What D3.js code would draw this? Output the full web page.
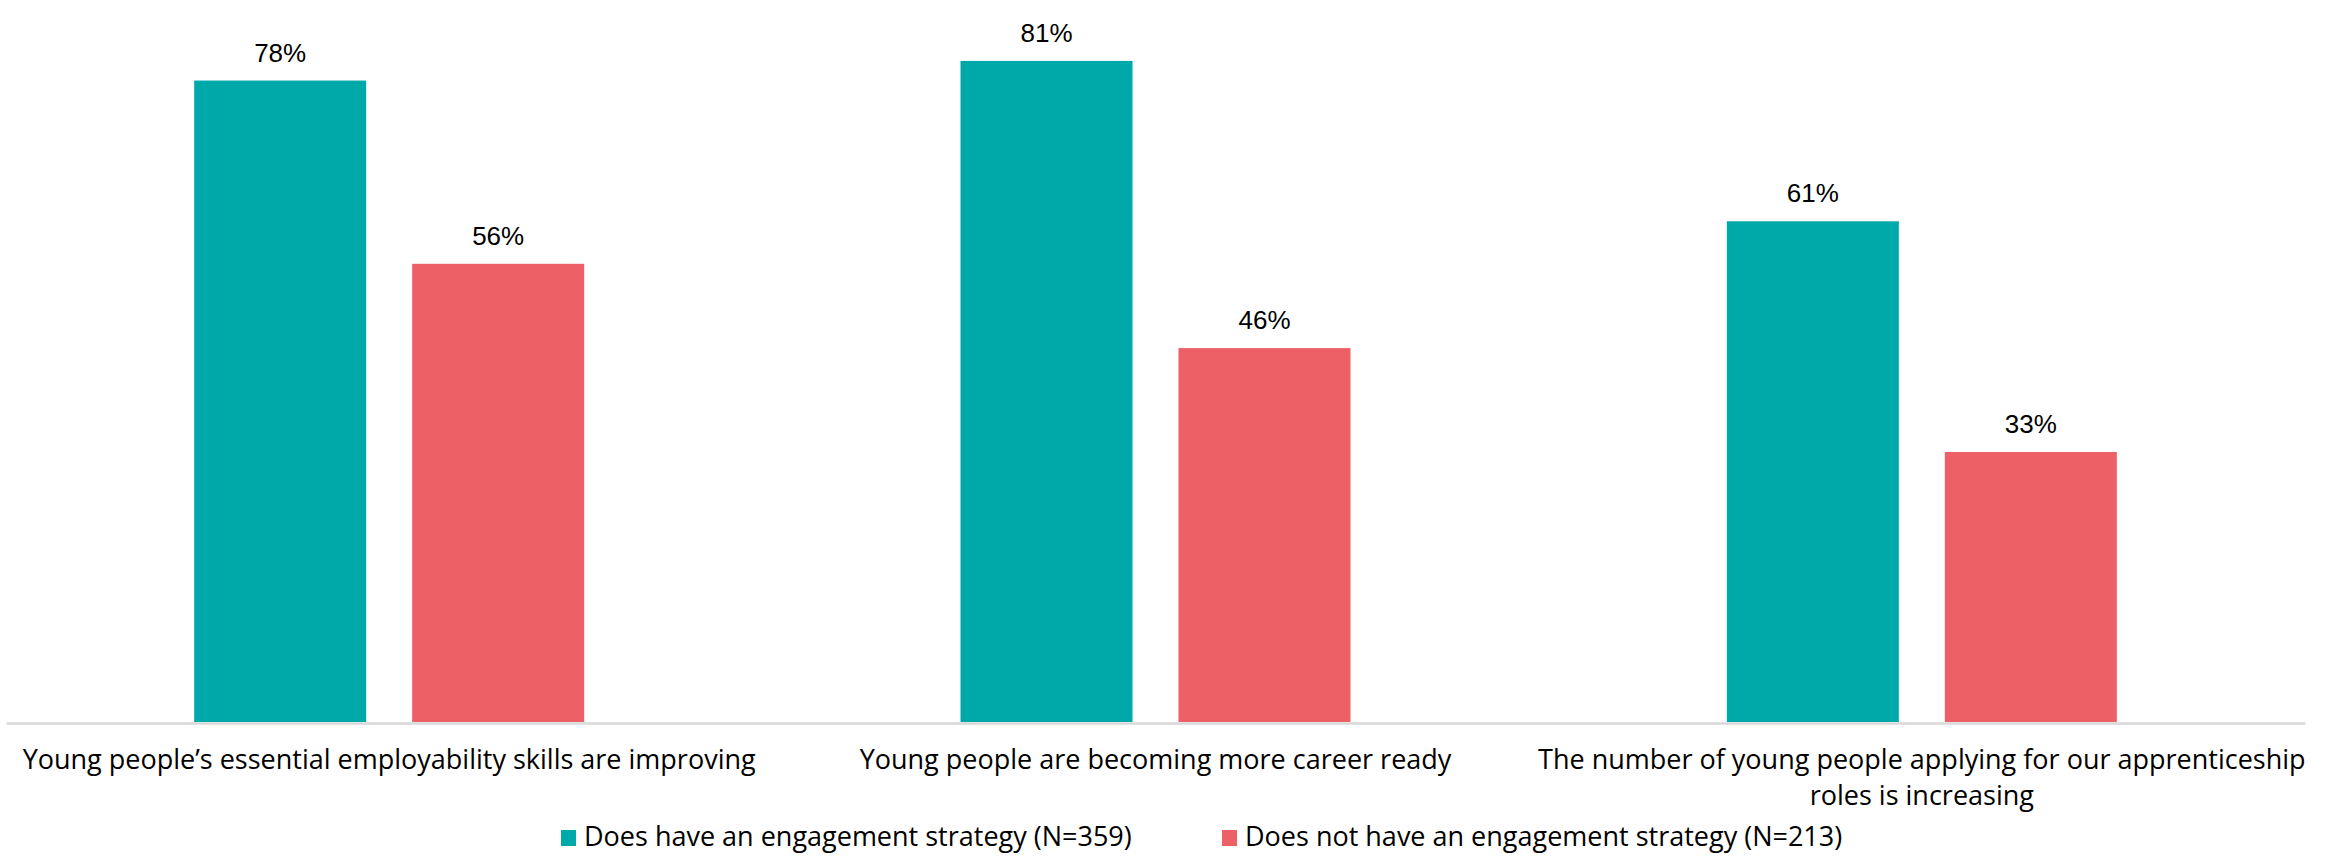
<!DOCTYPE html>
<html>
<head>
<meta charset="utf-8">
<script src="https://cdn.jsdelivr.net/npm/d3@7"></script>
<style>
  html, body { margin: 0; padding: 0; background: #fff; }
  svg { display: block; }
  text { fill: #000; }
  .val { font-family: "Liberation Sans", Arial, sans-serif; }
  .cat, .leg { font-family: "Open Sans", "Liberation Sans", sans-serif; }
</style>
</head>
<body>
<svg id="chart" width="2331" height="865"></svg>
<script>
const categories = [
  ["Young people’s essential employability skills are improving"],
  ["Young people are becoming more career ready"],
  ["The number of young people applying for our apprenticeship", "roles is increasing"]
];
const seriesNames = [
  "Does have an engagement strategy (N=359)",
  "Does not have an engagement strategy (N=213)"
];
// bar heights (labels show the rounded percentage)
const hasStrategy = [78.4, 80.8, 61.2];
const noStrategy = [56.0, 45.7, 33.0];
const colors = ["#00A9A9", "#EC6066"];

const svg = d3.select("#chart");
const plot = { left: 6, right: 2305, top: 2, bottom: 722 };

const x0 = d3.scaleBand()
  .domain(d3.range(categories.length))
  .range([plot.left, plot.right])
  .paddingInner(0).paddingOuter(0);

const groupInnerFrac = 390 / x0.bandwidth();
const x1 = d3.scaleBand()
  .domain([0, 1])
  .range([0, x0.bandwidth() * groupInnerFrac])
  .paddingInner(46 / 218)
  .paddingOuter(0);

const y = d3.scaleLinear().domain([0, 88]).range([plot.bottom, plot.top]);

const data = categories.map((c, i) => ({ i, vals: [hasStrategy[i], noStrategy[i]] }));

const groups = svg.selectAll("g.grp").data(data).join("g")
  .attr("class", "grp")
  .attr("transform", d => `translate(${x0(d.i) + (x0.bandwidth() - x0.bandwidth() * groupInnerFrac) / 2},0)`);

groups.selectAll("rect").data(d => d.vals.map((v, s) => ({ v, s }))).join("rect")
  .attr("x", d => x1(d.s))
  .attr("width", x1.bandwidth())
  .attr("y", d => y(d.v))
  .attr("height", d => y(0) - y(d.v))
  .attr("fill", d => colors[d.s]);

groups.selectAll("text.val").data(d => d.vals.map((v, s) => ({ v, s }))).join("text")
  .attr("class", "val")
  .attr("x", d => x1(d.s) + x1.bandwidth() / 2)
  .attr("y", d => y(d.v) - 19)
  .attr("text-anchor", "middle")
  .style("font-size", "26px")
  .text(d => Math.round(d.v) + "%");

const xAxis = d3.axisBottom(x0).tickSize(0).tickFormat("");
const axisG = svg.append("g").attr("transform", `translate(0,${plot.bottom + 1})`).call(xAxis);
axisG.select(".domain").attr("stroke", "#D9D9D9").attr("stroke-width", 2.5);

const catG = svg.append("g");
categories.forEach((lines, i) => {
  const cx = x0(i) + x0.bandwidth() / 2;
  const t = catG.append("text")
    .attr("class", "cat")
    .attr("text-anchor", "middle")
    .style("font-size", "27px")
    .attr("x", cx)
    .attr("y", 769);
  lines.forEach((ln, k) => {
    t.append("tspan").attr("x", cx).attr("dy", k === 0 ? 0 : 36).text(ln);
  });
});

const legend = svg.append("g");
const legendX = [561, 1222];
seriesNames.forEach((name, s) => {
  legend.append("rect")
    .attr("x", legendX[s]).attr("y", 830)
    .attr("width", 15).attr("height", 16)
    .attr("fill", colors[s]);
  legend.append("text")
    .attr("class", "leg")
    .attr("x", legendX[s] + 23).attr("y", 846)
    .style("font-size", "27px")
    .text(name);
});
</script>
</body>
</html>
